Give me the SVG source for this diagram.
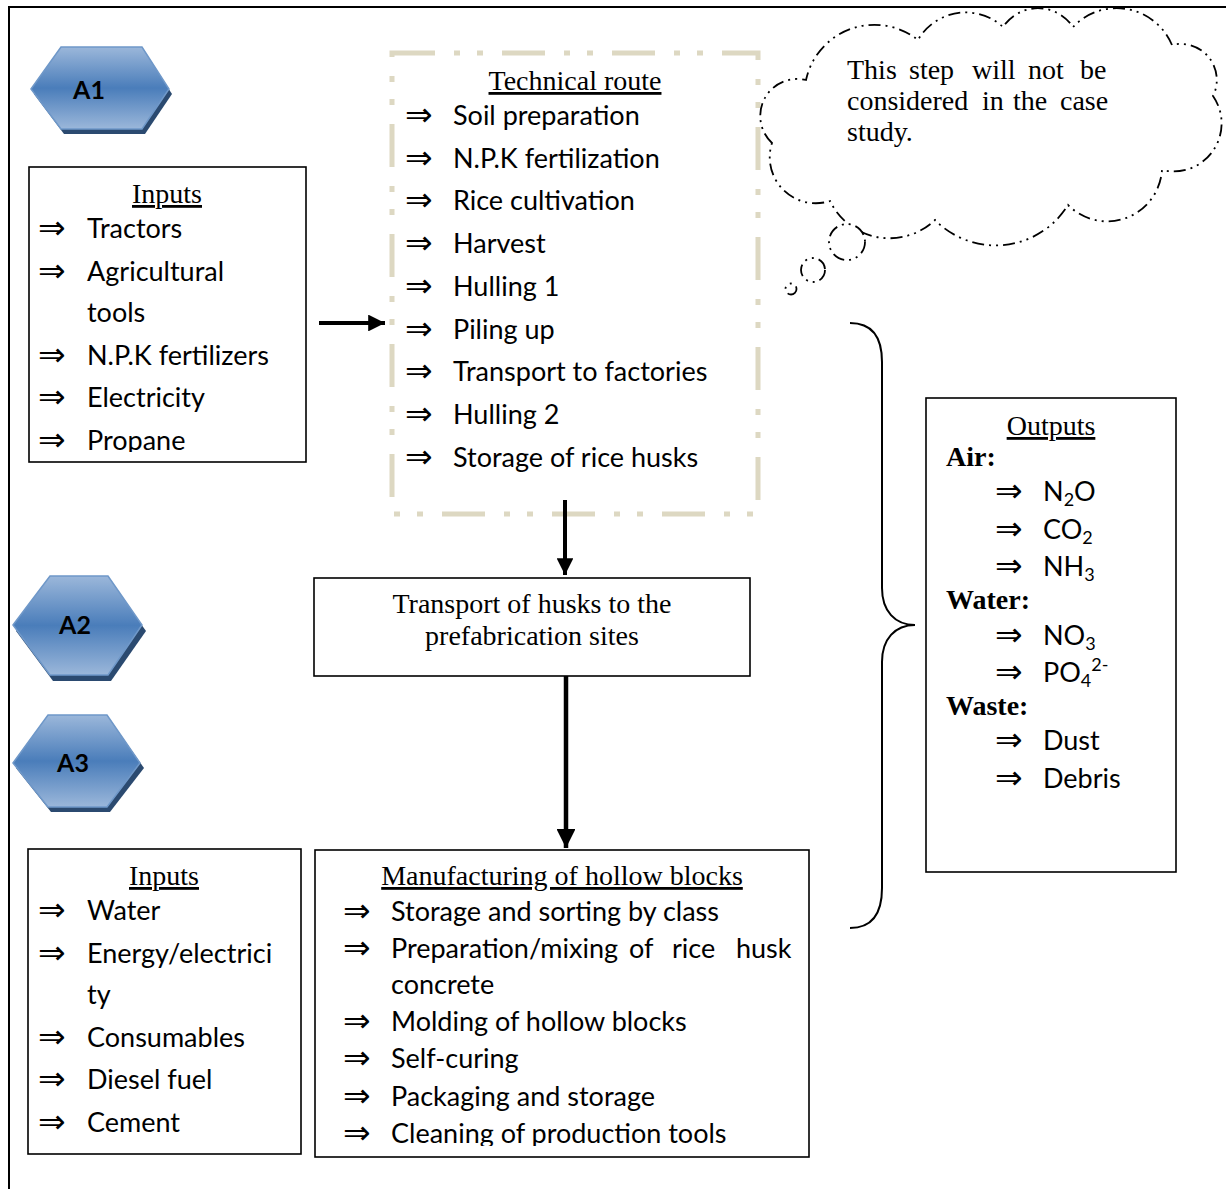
<svg xmlns="http://www.w3.org/2000/svg" width="1226" height="1189" viewBox="0 0 1226 1189">
<defs>
<linearGradient id="hexg" x1="0" y1="0" x2="0" y2="1">
<stop offset="0" stop-color="#9bb7da"/>
<stop offset="0.5" stop-color="#4a7dba"/>
<stop offset="1" stop-color="#9bb7da"/>
</linearGradient>
<marker id="ah" viewBox="0 0 10 10" refX="10" refY="5" markerWidth="4.2" markerHeight="4.2" markerUnits="strokeWidth" orient="auto">
<path d="M0,0 L10,5 L0,10 Z" fill="#000"/>
</marker>
<clipPath id="clipIn1"><rect x="29" y="167" width="277" height="285"/></clipPath>
<clipPath id="clipMan"><rect x="315" y="850" width="494" height="296"/></clipPath>
</defs>
<style>
.box{fill:#fff;stroke:#000;stroke-width:1.6}
.sans{font-family:Lato,"Liberation Sans",sans-serif;font-size:27px;fill:#000}
.serif{font-family:"Liberation Serif",serif;font-size:28px;fill:#000}
.bold{font-weight:bold}
.ul{text-decoration:underline}
.arr{font-family:"DejaVu Sans",sans-serif;font-size:33px;fill:#000}
.hexs{fill:#2b4a70}
.hex{fill:url(#hexg);stroke:#6f98c9;stroke-width:1.5}
.hext{font-family:Lato,"Liberation Sans",sans-serif;font-weight:bold;font-size:25px;fill:#000;text-anchor:middle}
.conn{stroke:#000;fill:none}
.cloud{fill:#fff;stroke:#000;stroke-width:1.8;stroke-dasharray:12 5 2 5 2 5}
.mid{text-anchor:middle}
</style>

<g id="frame">
<line x1="9" y1="7" x2="1226" y2="7" stroke="#000" stroke-width="2"/>
<line x1="9" y1="6" x2="9" y2="1189" stroke="#000" stroke-width="2"/>
</g>

<g id="A1">
<polygon class="hexs" points="34,94 64,52 145,52 172,94 145,134 64,134"/>
<polygon class="hex" points="31,89 61,47 142,47 169,89 142,129 61,129"/>
<text class="hext" x="89" y="99">A1</text>
</g>
<g id="A2">
<polygon class="hexs" points="16,631 53,582 111,582 146,631 111,681 53,681"/>
<polygon class="hex" points="13,625 50,576 108,576 142,625 108,675 50,675"/>
<text class="hext" x="75" y="634">A2</text>
</g>
<g id="A3">
<polygon class="hexs" points="16,768 51,720 110,720 144,768 110,812 51,812"/>
<polygon class="hex" points="13,763 48,715 107,715 140,763 107,807 48,807"/>
<text class="hext" x="73" y="772">A3</text>
</g>

<g id="inputs1">
<rect class="box" x="29" y="167" width="277" height="295"/>
<text class="serif ul mid" x="167" y="203">Inputs</text>
<g clip-path="url(#clipIn1)">
<text class="arr" x="38" y="239">⇒</text><text class="sans" x="87" y="238">Tractors</text>
<text class="arr" x="38" y="282">⇒</text><text class="sans" x="87" y="281">Agricultural</text>
<text class="sans" x="87" y="322">tools</text>
<text class="arr" x="38" y="366">⇒</text><text class="sans" x="87" y="365">N.P.K fertilizers</text>
<text class="arr" x="38" y="408">⇒</text><text class="sans" x="87" y="407">Electricity</text>
<text class="arr" x="38" y="451">⇒</text><text class="sans" x="87" y="450">Propane</text>
</g>
</g>

<g id="technical-route">
<rect x="392" y="53" width="366" height="461" fill="none" stroke="#ddd8c2" stroke-width="5" stroke-dasharray="43 19 6 17 6 19"/>
<text class="serif ul mid" x="575" y="90">Technical route</text>
<text class="arr" x="405" y="126">⇒</text><text class="sans" x="453" y="125">Soil preparation</text>
<text class="arr" x="405" y="169">⇒</text><text class="sans" x="453" y="168">N.P.K fertilization</text>
<text class="arr" x="405" y="211">⇒</text><text class="sans" x="453" y="210">Rice cultivation</text>
<text class="arr" x="405" y="254">⇒</text><text class="sans" x="453" y="253">Harvest</text>
<text class="arr" x="405" y="297">⇒</text><text class="sans" x="453" y="296">Hulling 1</text>
<text class="arr" x="405" y="340">⇒</text><text class="sans" x="453" y="339">Piling up</text>
<text class="arr" x="405" y="382">⇒</text><text class="sans" x="453" y="381">Transport to factories</text>
<text class="arr" x="405" y="425">⇒</text><text class="sans" x="453" y="424">Hulling 2</text>
<text class="arr" x="405" y="468">⇒</text><text class="sans" x="453" y="467">Storage of rice husks</text>
</g>

<g id="cloud">
<path class="cloud" d="M772,143 A37,37 0 0 1 806,80 A70,70 0 0 1 918,40 A55,55 0 0 1 1003,27 A42,42 0 0 1 1073,27 A60,60 0 0 1 1172,45 A36,36 0 0 1 1213,96 A48,48 0 0 1 1162,170 A55,55 0 0 1 1068,205 A85,85 0 0 1 935,220 A66,66 0 0 1 830,201 A46,46 0 0 1 772,143 Z"/>
<circle class="cloud" cx="847" cy="242" r="18"/>
<circle class="cloud" cx="813" cy="270" r="12"/>
<circle class="cloud" cx="791" cy="289" r="5.5"/>
<text class="serif" y="79"><tspan x="847">This</tspan><tspan x="909">step</tspan><tspan x="972">will</tspan><tspan x="1028">not</tspan><tspan x="1080">be</tspan></text>
<text class="serif" y="110"><tspan x="847">considered</tspan><tspan x="982">in</tspan><tspan x="1013">the</tspan><tspan x="1060">case</tspan></text>
<text class="serif" x="847" y="141">study.</text>
</g>

<g id="transport-box">
<rect class="box" x="314" y="578" width="436" height="98" stroke-width="2"/>
<text class="serif mid" x="532" y="613">Transport of husks to the</text>
<text class="serif mid" x="532" y="645">prefabrication sites</text>
</g>

<g id="inputs2">
<rect class="box" x="28" y="849" width="273" height="305"/>
<text class="serif ul mid" x="164" y="885">Inputs</text>
<text class="arr" x="38" y="921">⇒</text><text class="sans" x="87" y="920">Water</text>
<text class="arr" x="38" y="964">⇒</text><text class="sans" x="87" y="963">Energy/electrici</text>
<text class="sans" x="87" y="1004">ty</text>
<text class="arr" x="38" y="1048">⇒</text><text class="sans" x="87" y="1047">Consumables</text>
<text class="arr" x="38" y="1090">⇒</text><text class="sans" x="87" y="1089">Diesel fuel</text>
<text class="arr" x="38" y="1133">⇒</text><text class="sans" x="87" y="1132">Cement</text>
</g>

<g id="manufacturing">
<rect class="box" x="315" y="850" width="494" height="307"/>
<text class="serif ul mid" x="562" y="885">Manufacturing of hollow blocks</text>
<g clip-path="url(#clipMan)">
<text class="arr" x="343" y="922">⇒</text><text class="sans" x="391" y="921">Storage and sorting by class</text>
<text class="arr" x="343" y="959">⇒</text><text class="sans" y="958"><tspan x="391">Preparation/mixing</tspan><tspan x="629">of</tspan><tspan x="672">rice</tspan><tspan x="736">husk</tspan></text>
<text class="sans" x="391" y="994">concrete</text>
<text class="arr" x="343" y="1032">⇒</text><text class="sans" x="391" y="1031">Molding of hollow blocks</text>
<text class="arr" x="343" y="1069">⇒</text><text class="sans" x="391" y="1068">Self-curing</text>
<text class="arr" x="343" y="1107">⇒</text><text class="sans" x="391" y="1106">Packaging and storage</text>
<text class="arr" x="343" y="1144">⇒</text><text class="sans" x="391" y="1143">Cleaning of production tools</text>
</g>
</g>

<g id="outputs">
<rect class="box" x="926" y="398" width="250" height="474"/>
<text class="serif ul mid" x="1051" y="435">Outputs</text>
<text class="serif bold" x="946" y="466">Air:</text>
<text class="arr" x="995" y="502">⇒</text><text class="sans" x="1043" y="501">N<tspan font-size="18" dy="5">2</tspan><tspan dy="-5">O</tspan></text>
<text class="arr" x="995" y="540">⇒</text><text class="sans" x="1043" y="539">CO<tspan font-size="18" dy="5">2</tspan></text>
<text class="arr" x="995" y="577">⇒</text><text class="sans" x="1043" y="576">NH<tspan font-size="18" dy="5">3</tspan></text>
<text class="serif bold" x="946" y="609">Water:</text>
<text class="arr" x="995" y="646">⇒</text><text class="sans" x="1043" y="645">NO<tspan font-size="18" dy="5">3</tspan></text>
<text class="arr" x="995" y="683">⇒</text><text class="sans" x="1043" y="682">PO<tspan font-size="18" dy="5">4</tspan><tspan font-size="18" dy="-16">2-</tspan></text>
<text class="serif bold" x="946" y="715">Waste:</text>
<text class="arr" x="995" y="751">⇒</text><text class="sans" x="1043" y="750">Dust</text>
<text class="arr" x="995" y="789">⇒</text><text class="sans" x="1043" y="788">Debris</text>
</g>

<g id="connectors">
<line class="conn" x1="319" y1="323" x2="385" y2="323" stroke-width="4" marker-end="url(#ah)"/>
<line class="conn" x1="565" y1="500" x2="565" y2="575" stroke-width="4" marker-end="url(#ah)"/>
<line class="conn" x1="566" y1="676" x2="566" y2="848" stroke-width="4.5" marker-end="url(#ah)"/>
<path class="conn" stroke-width="2" d="M850,323 C872,323 882,337 882,362 L882,588 C882,611 895,625 915,625 C895,625 882,639 882,662 L882,888 C882,913 872,928 850,928"/>
</g>
</svg>
